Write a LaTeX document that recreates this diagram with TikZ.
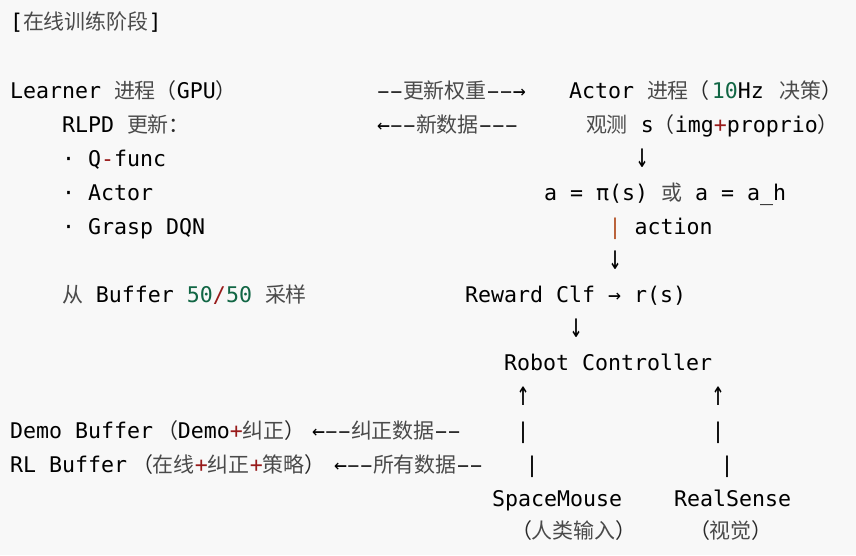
\documentclass[tikz,border=0pt]{standalone}
\usepackage{fontspec}
\setmonofont{DejaVu Sans Mono}
\newfontfamily\cjkfont[Scale=0.97]{Noto Sans CJK SC}
\definecolor{bg}{HTML}{F8F8F8}
\definecolor{zhcol}{HTML}{4A4A4A}
\definecolor{pcol}{HTML}{2A2A2A}
\definecolor{numcol}{HTML}{116644}
\definecolor{opcol}{HTML}{981A1A}
\definecolor{pipecol}{HTML}{B5562B}
\newcommand\zh[1]{{\cjkfont\color{zhcol}#1}}
\newcommand\zp[1]{{\cjkfont\color{pcol}#1}}
\newcommand\nm[1]{{\color{numcol}#1}}
\newcommand\op[1]{{\color{opcol}#1}}
\newcommand\dd{\makebox[13pt]{\scalebox{0.78}[1]{–}}}
\newcommand\varr[1]{\scalebox{1}[1.6]{#1}}
\begin{document}
\begin{tikzpicture}[x=1pt,y=-1pt,
  txt/.style={anchor=base west,inner sep=0pt,outer sep=0pt,font=\ttfamily\fontsize{21.6}{26}\selectfont,text=black},
  glyph/.style={txt,anchor=base}]
\fill[bg] (0,0) rectangle (856,555);
\useasboundingbox (0,0) rectangle (856,555);
% title
\node[txt] (title) at (10,29) {[\zh{在线训练阶段}]};
% line 2
\node[txt] (learner) at (10,98) {Learner \zh{进程}\zp{（}GPU\zp{）}};
\node[txt] (wup) at (377,98) {\dd\dd\zh{更新权重}\dd\dd→};
\node[txt] (actor) at (569,98) {Actor \zh{进程}\zp{（}\hspace{2pt}\nm{10}Hz \hspace{3pt}\zh{决策}\zp{）}};
% line 3
\node[txt] (rlpd) at (62,132) {RLPD \zh{更新}\zp{：}};
\node[txt] (newdata) at (377,132) {←\dd\dd\zh{新数据}\dd\dd\dd};
\node[txt] (obs) at (586,132) {\zh{观测} s\zp{（}img\op{+}proprio\zp{）}};
% line 4
\node[txt] (qf) at (62,166) {· Q\op{-}func};
\node[glyph] (d1) at (642,167) {\varr{↓}};
% line 5
\node[txt] (act) at (62,200) {· Actor};
\node[txt] (pol) at (544,200) {a = π(s) \zh{或} a = a\_h};
% line 6
\node[txt] (dqn) at (62,234) {· Grasp DQN};
\node[txt] (action) at (608.5,234) {{\color{pipecol}|} action};
% line 7
\node[glyph] (d2) at (615,269) {\varr{↓}};
% line 8
\node[txt] (samp) at (62,302) {\zh{从} Buffer \nm{50}\op{/}\nm{50} \zh{采样}};
\node[txt] (rew) at (465,302) {Reward Clf → r(s)};
% line 9
\node[glyph] (d3) at (576,337) {\varr{↓}};
% line 10
\node[txt] (robot) at (504,370) {Robot Controller};
% line 11
\node[glyph] (u1) at (523,405) {\varr{↑}};
\node[glyph] (u2) at (718,405) {\varr{↑}};
% line 12
\node[txt] (demo) at (10,438) {Demo Buffer};
\node[txt] (democ) at (157,438) {\zp{（}Demo\op{+}\zh{纠正}\zp{）}};
\node[txt] (corr) at (312,438) {←\dd\dd\zh{纠正数据}\dd\dd};
\node[glyph] (p1) at (523,438) {|};
\node[glyph] (p2) at (718,438) {|};
% line 13
\node[txt] (rlb) at (10,472) {RL Buffer};
\node[txt] (rlbc) at (132,472) {\zp{（}\zh{在线}\op{+}\zh{纠正}\op{+}\zh{策略}\zp{）}};
\node[txt] (all) at (334,472) {←\dd\dd\zh{所有数据}\dd\dd};
\node[glyph] (p3) at (532,472) {|};
\node[glyph] (p4) at (727,472) {|};
% line 14
\node[txt] (sm) at (492,506) {SpaceMouse};
\node[txt] (rs) at (674,506) {RealSense};
% line 15
\node[txt] (human) at (511,538) {\zp{（}\zh{人类输入}\zp{）}};
\node[txt] (vis) at (689,538) {\zp{（}\zh{视觉}\zp{）}};
\end{tikzpicture}
\end{document}
